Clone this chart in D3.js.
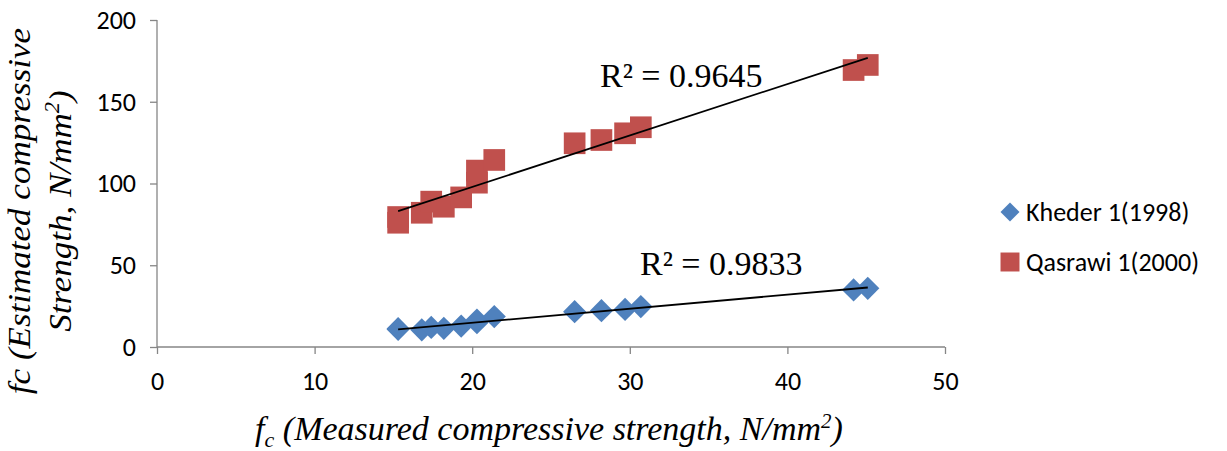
<!DOCTYPE html>
<html>
<head>
<meta charset="utf-8">
<script src="https://cdn.jsdelivr.net/npm/d3@7"></script>
<style>
  body { margin: 0; background: #fff; }
  svg { display: block; }
  .tick-label { font-family: Carlito, Lato, "Open Sans", sans-serif; font-size: 26px; fill: #000; }
  .title { font-family: "Liberation Serif", "Times New Roman", serif; font-style: italic; fill: #000; }
  .r2 { font-family: "Liberation Serif", "Times New Roman", serif; font-size: 34px; fill: #000; }
</style>
</head>
<body>
<div class="canvas"></div>
<script>
// measured strength (x), shared by both series
const measured = [15.3, 15.3, 16.8, 17.4, 18.2, 19.3, 20.3, 20.3, 21.4, 26.5, 28.2, 29.7, 30.7, 44.2, 45.1];
const kheder = [10.8, 11.2, 10.5, 12.0, 11.4, 12.8, 14.9, 16.5, 18.6, 21.6, 22.2, 23.0, 24.7, 34.9, 35.9];
const qasrawi = [79.5, 76.0, 82.1, 88.9, 85.8, 91.5, 100.5, 107.9, 114.4, 124.6, 126.6, 130.7, 134.4, 169.4, 172.5];
const seriesNames = ["Kheder 1(1998)", "Qasrawi 1(2000)"];
const r2Labels = ["R² = 0.9833", "R² = 0.9645"];
const xTicks = [0, 10, 20, 30, 40, 50];
const yTicks = [0, 50, 100, 150, 200];

const dims = { width: 1227, height: 451 };
const plot = { left: 157, right: 945, top: 20, bottom: 347 };

const svg = d3
  .select(".canvas")
  .append("svg")
  .attr("width", dims.width)
  .attr("height", dims.height);

const x = d3.scaleLinear().domain([0, 50]).range([plot.left, plot.right]);
const y = d3.scaleLinear().domain([0, 200]).range([plot.bottom, plot.top]);

const axisColor = "#868686";

// y axis
const yAxis = svg
  .append("g")
  .attr("transform", `translate(${plot.left},0)`)
  .call(d3.axisLeft(y).tickValues(yTicks).tickSize(7).tickPadding(14));
// x axis
const xAxis = svg
  .append("g")
  .attr("transform", `translate(0,${plot.bottom})`)
  .call(d3.axisBottom(x).tickValues(xTicks).tickSize(7).tickPadding(18));

[xAxis, yAxis].forEach((ax) => {
  ax.attr("font-size", null).attr("font-family", null);
  ax.select(".domain").attr("stroke", axisColor).attr("stroke-width", 1.3);
  ax.selectAll(".tick line").attr("stroke", axisColor).attr("stroke-width", 1.3);
  ax.selectAll(".tick text").attr("class", "tick-label").attr("fill", "#000");
});
// plain axis lines, no end caps
yAxis.select(".domain").attr("d", `M0,${plot.top}V${plot.bottom}`);
xAxis.select(".domain").attr("d", `M${plot.left},0H${plot.right}`);

const series = [
  { name: seriesNames[0], values: kheder, color: "#4F81BD", symbol: d3.symbolDiamond, r2: r2Labels[0] },
  { name: seriesNames[1], values: qasrawi, color: "#C0504D", symbol: d3.symbolSquare, r2: r2Labels[1] },
];

// linear fit for trendlines
const fit = (xs, ys) => {
  const mx = d3.mean(xs), my = d3.mean(ys);
  let num = 0, den = 0;
  xs.forEach((v, i) => {
    num += (v - mx) * (ys[i] - my);
    den += (v - mx) * (v - mx);
  });
  const b = num / den;
  return { b, a: my - b * mx };
};

const line = d3.line().x((d) => x(d[0])).y((d) => y(d[1]));

// diamond: widen d3's tall diamond into a square rotated 45deg
const diamondStretch = 1 / Math.tan(Math.PI / 6);

series.forEach((s) => {
  const pts = measured.map((m, i) => [m, s.values[i]]);
  const isDiamond = s.symbol === d3.symbolDiamond;
  const sym = d3.symbol().type(s.symbol).size(isDiamond ? 155 : 470);
  svg
    .append("g")
    .selectAll("path")
    .data(pts)
    .enter()
    .append("path")
    .attr("d", sym)
    .attr("fill", s.color)
    .attr("transform", (d) =>
      isDiamond
        ? `translate(${x(d[0])},${y(d[1])}) scale(${diamondStretch},1)`
        : `translate(${x(d[0])},${y(d[1])})`
    );
  const f = fit(measured, s.values);
  const x0 = d3.min(measured), x1 = d3.max(measured);
  s.fitLine = [[x0, f.a + f.b * x0], [x1, f.a + f.b * x1]];
});

// trendlines on top
series.forEach((s) => {
  svg
    .append("path")
    .attr("d", line(s.fitLine))
    .attr("fill", "none")
    .attr("stroke", "#000")
    .attr("stroke-width", 1.8);
});

// R² labels
svg.append("text").attr("class", "r2").attr("x", 640).attr("y", 275).text(series[0].r2);
svg.append("text").attr("class", "r2").attr("x", 600).attr("y", 87).text(series[1].r2);

// axis titles
const xt = svg
  .append("text")
  .attr("class", "title")
  .attr("x", 549)
  .attr("y", 440)
  .attr("text-anchor", "middle")
  .style("font-size", "34px");
xt.append("tspan").text("f");
xt.append("tspan").attr("dy", 7).style("font-size", "22px").text("c");
xt.append("tspan").attr("dy", -7).text(" (Measured compressive strength, N/mm");
xt.append("tspan").attr("dy", -12).style("font-size", "21px").text("2");
xt.append("tspan").attr("dy", 12).text(")");

// rotated title, stretched a little along its reading direction
const yt = svg
  .append("g")
  .attr("transform", "translate(0,211) rotate(-90) scale(1.13,1)");
yt.append("text")
  .attr("class", "title")
  .attr("x", 0)
  .attr("y", 30)
  .attr("text-anchor", "middle")
  .style("font-size", "31px")
  .text("fc (Estimated compressive");
const yt2 = yt
  .append("text")
  .attr("class", "title")
  .attr("x", 0)
  .attr("y", 71)
  .attr("text-anchor", "middle")
  .style("font-size", "31px");
yt2.append("tspan").text("Strength, N/mm");
yt2.append("tspan").attr("dy", -12).style("font-size", "20px").text("2");
yt2.append("tspan").attr("dy", 12).text(")");

// legend
const legend = svg.append("g").attr("transform", "translate(1010,212)");
series.forEach((s, i) => {
  const isDiamond = s.symbol === d3.symbolDiamond;
  const g = legend.append("g").attr("transform", `translate(0,${i * 50})`);
  g.append("path")
    .attr("d", d3.symbol().type(s.symbol).size(isDiamond ? 104 : 360)())
    .attr("fill", s.color)
    .attr("transform", isDiamond ? `scale(${diamondStretch},1)` : null);
  g.append("text")
    .attr("class", "tick-label")
    .attr("x", 16)
    .attr("y", 9)
    .text(s.name);
});
</script>
</body>
</html>
